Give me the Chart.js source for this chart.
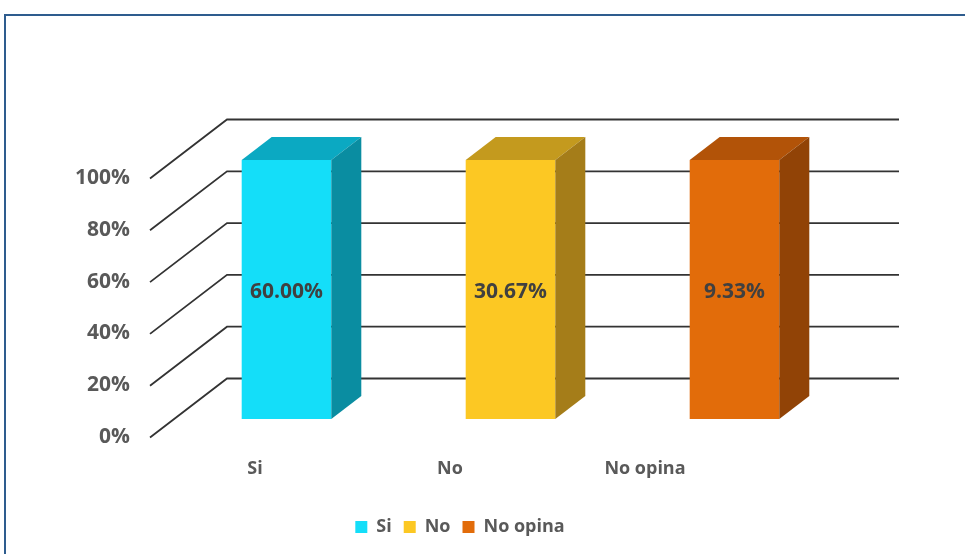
<!DOCTYPE html>
<html>
<head>
<meta charset="utf-8">
<script src="https://cdn.jsdelivr.net/npm/chart.js@4/dist/chart.umd.min.js"></script>
<style>
  html, body { margin: 0; padding: 0; background: #ffffff; overflow: hidden; }
  #wrap { position: relative; width: 965px; height: 554px; }
  #frame { position: absolute; left: 4px; top: 14px; width: 2000px; height: 1000px;
           border-top: 2px solid #2E5C8E; border-left: 2px solid #2E5C8E; box-sizing: border-box; }
  #c { position: absolute; left: 0; top: 0; }
</style>
</head>
<body>
<div id="wrap">
  <div id="frame"></div>
  <canvas id="c" width="965" height="554"></canvas>
</div>
<script>
// ---- data ----
const categories = ['Si', 'No', 'No opina'];
const seriesNames = ['Si', 'No', 'No opina'];
const siValues = [60.00, null, null];
const noValues = [null, 30.67, null];
const noOpinaValues = [null, null, 9.33];
const yTickValues = [0, 20, 40, 60, 80, 100];

// ---- styles ----
const frontColors = ['#14DEF9', '#FCC823', '#E26C0A'];
const topColors = ['#0BA9C2', '#C49A1E', '#B25308'];
const sideColors = ['#0A8DA1', '#A57D19', '#914306'];
const FONT = '"Open Sans", "Liberation Sans", sans-serif';

// 100% stacked: each value as share of its category total
const series = [siValues, noValues, noOpinaValues];
const totals = categories.map((_, i) => series.reduce((s, arr) => s + (arr[i] == null ? 0 : arr[i]), 0));
const share = arr => arr.map((v, i) => v == null ? null : v / totals[i] * 100);

const DEPTH = { dx: 30, dy: -23 };
const FRONT = { dx: -24.5, dy: 18.5 };
const BACK = { dx: 52.5, dy: -40.5 };

const threeD = {
  id: 'threeD',
  beforeDatasetsDraw(chart) {
    const ctx = chart.ctx, y = chart.scales.y, area = chart.chartArea;
    ctx.save();
    ctx.strokeStyle = '#333333';
    ctx.lineWidth = 1.8;
    yTickValues.forEach(v => {
      const py = y.getPixelForValue(v);
      ctx.beginPath();
      ctx.moveTo(area.left + FRONT.dx, py + FRONT.dy);
      ctx.lineTo(area.left + BACK.dx, py + BACK.dy);
      ctx.lineTo(area.right + BACK.dx, py + BACK.dy);
      ctx.stroke();
    });
    ctx.restore();
  },
  afterDatasetsDraw(chart) {
    const ctx = chart.ctx;
    ctx.save();
    chart.data.datasets.forEach((ds, di) => {
      const meta = chart.getDatasetMeta(di);
      meta.data.forEach((el, i) => {
        if (ds.data[i] == null) return;
        const p = el.getProps(['x', 'y', 'base', 'width'], true);
        const l = p.x - p.width / 2, r = p.x + p.width / 2, t = p.y, b = p.base;
        ctx.fillStyle = topColors[di];
        ctx.beginPath();
        ctx.moveTo(l, t); ctx.lineTo(l + DEPTH.dx, t + DEPTH.dy);
        ctx.lineTo(r + DEPTH.dx, t + DEPTH.dy); ctx.lineTo(r, t); ctx.closePath(); ctx.fill();
        ctx.fillStyle = sideColors[di];
        ctx.beginPath();
        ctx.moveTo(r, t); ctx.lineTo(r + DEPTH.dx, t + DEPTH.dy);
        ctx.lineTo(r + DEPTH.dx, b + DEPTH.dy); ctx.lineTo(r, b); ctx.closePath(); ctx.fill();
        // data label (raw value)
        ctx.fillStyle = '#404040';
        ctx.font = 'bold 21px ' + FONT;
        ctx.textAlign = 'center';
        ctx.textBaseline = 'middle';
        ctx.fillText(series[di][i].toFixed(2) + '%', p.x, (t + b) / 2 + 3);
      });
    });
    // category labels (front plane, perspective)
    const x = chart.scales.x, area = chart.chartArea;
    ctx.fillStyle = '#595959';
    ctx.font = 'bold 18px ' + FONT;
    ctx.textAlign = 'center';
    ctx.textBaseline = 'middle';
    categories.forEach((c, i) => {
      const cx = x.getPixelForTick(i);
      const lx = area.left - 17 + 0.8705 * (cx - area.left);
      ctx.fillText(c, lx, area.bottom + 50);
    });
    ctx.restore();
  }
};

new Chart(document.getElementById('c'), {
  type: 'bar',
  data: {
    labels: categories,
    datasets: seriesNames.map((name, i) => ({
      label: name,
      data: share(series[i]),
      backgroundColor: frontColors[i],
      borderWidth: 0,
      categoryPercentage: 1,
      barPercentage: 0.4
    }))
  },
  options: {
    responsive: false,
    animation: false,
    devicePixelRatio: 1,
    layout: { padding: { left: 73.5, right: 118.5, top: 160, bottom: 8 } },
    plugins: {
      tooltip: { enabled: false },
      legend: {
        position: 'bottom',
        labels: {
          boxWidth: 12, boxHeight: 12, padding: 12,
          color: '#595959',
          font: { family: FONT, size: 18, weight: 'bold' }
        }
      }
    },
    scales: {
      x: {
        stacked: true,
        grid: { display: false },
        border: { display: false },
        ticks: { display: false },
        afterFit(s) { s.height = 87; }
      },
      y: {
        stacked: true,
        min: 0, max: 100,
        afterBuildTicks(s) { s.ticks = yTickValues.map(v => ({ value: v })); },
        grid: { display: false },
        border: { display: false },
        ticks: {
          padding: 36.5,
          labelOffset: 18,
          color: '#595959',
          font: { family: FONT, size: 21, weight: 'bold' },
          callback: v => v + '%'
        },
        afterFit(s) { s.width = 101; }
      }
    }
  },
  plugins: [threeD]
});
</script>
</body>
</html>
